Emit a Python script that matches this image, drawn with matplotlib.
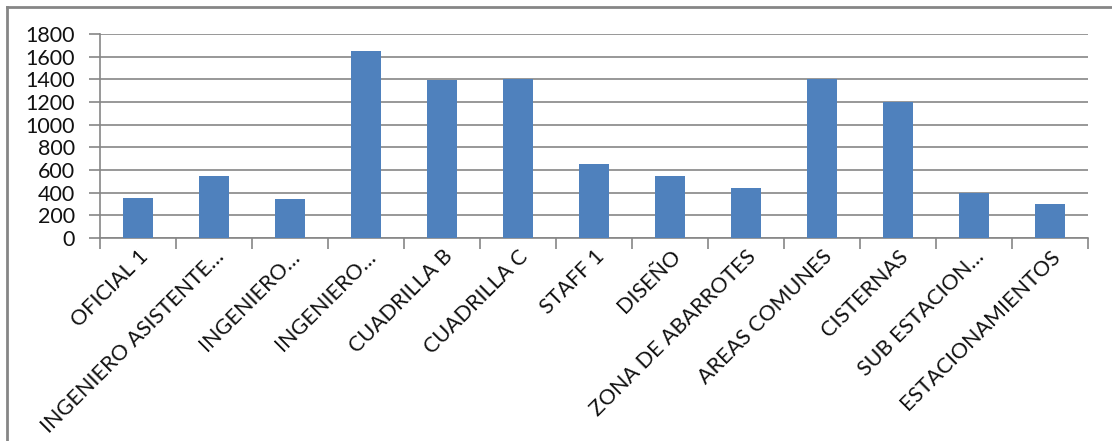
import matplotlib
matplotlib.use("Agg")
import matplotlib.pyplot as plt
from matplotlib.lines import Line2D
from matplotlib.transforms import ScaledTranslation
import numpy as np

categories = ["OFICIAL 1", "INGENIERO ASISTENTE…", "INGENIERO…", "INGENIERO…",
              "CUADRILLA B", "CUADRILLA C", "STAFF 1", "DISEÑO",
              "ZONA DE ABARROTES", "AREAS COMUNES", "CISTERNAS",
              "SUB ESTACION…", "ESTACIONAMIENTOS"]
values = [350, 550, 340, 1650, 1390, 1400, 650, 550, 440, 1400, 1200, 400, 300]
yticks = [0, 200, 400, 600, 800, 1000, 1200, 1400, 1600, 1800]

plt.rcParams['font.family'] = ['Lato', 'DejaVu Sans']
W, H = 1112, 441
fig = plt.figure(figsize=(W/100, H/100), dpi=100)
ax = fig.add_axes([100/W, 1-238/H, (1088-100)/W, (238-34)/H])

grey = '#868686'
txt = '#111111'
x = np.arange(len(categories))
ax.bar(x, values, width=0.4, color='#4F81BD', zorder=3)
ax.set_xlim(-0.5, len(categories)-0.5)
ax.set_ylim(0, 1800)
ax.set_yticks(yticks)
ax.set_yticklabels([str(v) for v in yticks], fontsize=15.5, color=txt)
ax.yaxis.grid(True, color=grey, linewidth=1.2, zorder=0)
ax.set_xticks(x)
ax.set_xticklabels(categories, rotation=45, ha='right', va='top',
                   rotation_mode='anchor', fontsize=15.5, color=txt)
offset = ScaledTranslation(2/100, 0, fig.dpi_scale_trans)
for lab in ax.get_xticklabels():
    lab.set_transform(lab.get_transform() + offset)
ax.set_xticks(np.arange(len(categories)+1)-0.5, minor=True)
ax.tick_params(axis='x', which='major', length=0, pad=6)
ax.tick_params(axis='x', which='minor', length=8, color=grey, width=1.2, direction='out')
ax.tick_params(axis='y', length=8, color=grey, width=1.2, pad=10)
for s in ['top', 'right']:
    ax.spines[s].set_visible(False)
for s in ['left', 'bottom']:
    ax.spines[s].set_color(grey)
    ax.spines[s].set_linewidth(1.2)

# chart border (top and left edges visible)
fig.add_artist(Line2D([7/W, 1], [1-7/H, 1-7/H], transform=fig.transFigure, color=grey, linewidth=2))
fig.add_artist(Line2D([7/W, 7/W], [0, 1-7/H], transform=fig.transFigure, color=grey, linewidth=2))

fig.savefig("out.png", dpi=100)
